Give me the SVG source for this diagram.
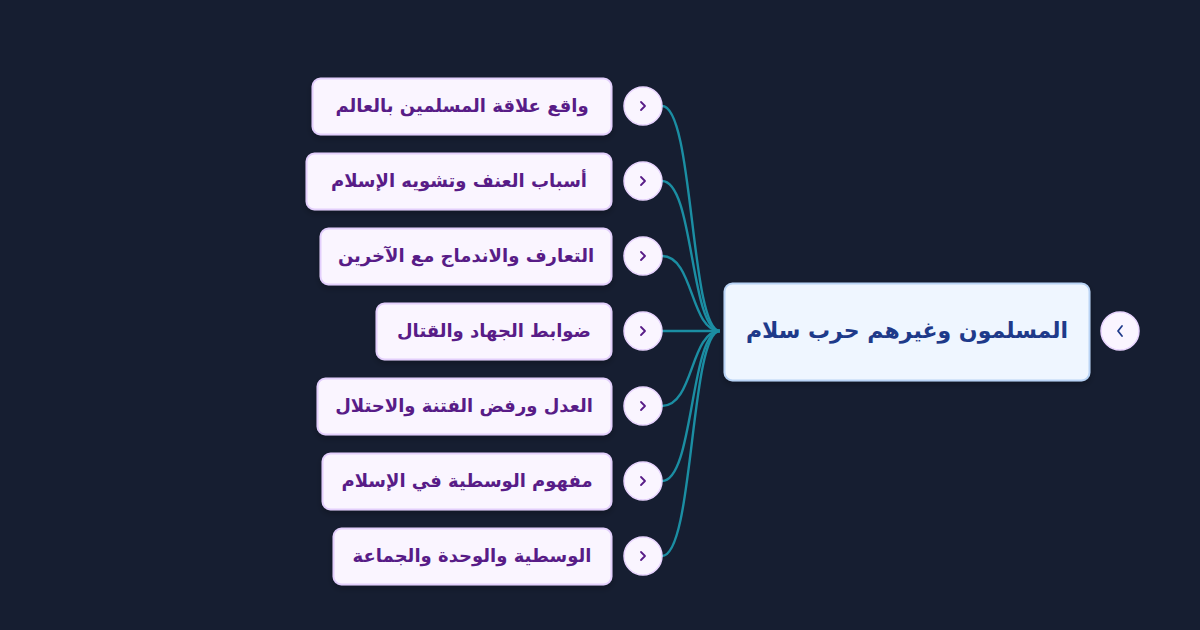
<svg xmlns="http://www.w3.org/2000/svg" width="1200" height="630" viewBox="0 0 1200 630">
<defs>
<style>
.bg{fill:#161e31}
.child rect{fill:#faf5ff;stroke:#e3cffc;stroke-width:2}
.child text{fill:#581c87;font-family:"DejaVu Sans",sans-serif;font-weight:bold;font-size:18px;text-anchor:middle;dominant-baseline:central}
.root rect{fill:#eff6ff;stroke:#b9d3f5;stroke-width:2}
.root text{fill:#1e3a8a;font-family:"DejaVu Sans",sans-serif;font-weight:bold;font-size:22px;text-anchor:middle;dominant-baseline:central}
.tog circle{fill:#faf5ff;stroke:#e9d5ff;stroke-width:1.5}
.tog path{fill:none;stroke:#581c87;stroke-width:1.8;stroke-linecap:round;stroke-linejoin:round}
.rtog path{stroke:#1e3a8a}
.conn path{fill:none;stroke:#1b8ea3;stroke-width:2.4}
</style>
<filter id="sh" x="-10%" y="-20%" width="120%" height="150%">
<feDropShadow dx="0" dy="3" stdDeviation="3" flood-color="#000" flood-opacity="0.25"/>
</filter>
</defs>
<rect class="bg" x="0" y="0" width="1200" height="630"/>
<g id="connectors" class="conn">
<path d="M662,106 C694,106 690,331 720,331"/>
<path d="M662,181 C694,181 690,331 720,331"/>
<path d="M662,256 C694,256 690,331 720,331"/>
<path d="M662,331 L720,331"/>
<path d="M662,406 C694,406 690,331 720,331"/>
<path d="M662,481 C694,481 690,331 720,331"/>
<path d="M662,556 C694,556 690,331 720,331"/>
</g>
<g id="root" class="root">
<rect x="724.5" y="283.5" width="365" height="97" rx="8" filter="url(#sh)"/>
<text x="907" y="330" direction="rtl">المسلمون وغيرهم حرب سلام</text>
</g>
<g id="root-toggle" class="tog rtog">
<circle cx="1120" cy="331" r="19"/>
<path d="M1122,326 L1118,331 L1122,336"/>
</g>
<g id="n1" class="child">
<rect x="312.5" y="78.5" width="299" height="56" rx="8" filter="url(#sh)"/>
<text x="462" y="105" direction="rtl">واقع علاقة المسلمين بالعالم</text>
</g>
<g id="n2" class="child">
<rect x="306.5" y="153.5" width="305" height="56" rx="8" filter="url(#sh)"/>
<text x="459" y="180" direction="rtl">أسباب العنف وتشويه الإسلام</text>
</g>
<g id="n3" class="child">
<rect x="320.5" y="228.5" width="291" height="56" rx="8" filter="url(#sh)"/>
<text x="466" y="255" direction="rtl">التعارف والاندماج مع الآخرين</text>
</g>
<g id="n4" class="child">
<rect x="376.5" y="303.5" width="235" height="56" rx="8" filter="url(#sh)"/>
<text x="494" y="330" direction="rtl">ضوابط الجهاد والقتال</text>
</g>
<g id="n5" class="child">
<rect x="317.5" y="378.5" width="294" height="56" rx="8" filter="url(#sh)"/>
<text x="464" y="405" direction="rtl">العدل ورفض الفتنة والاحتلال</text>
</g>
<g id="n6" class="child">
<rect x="322.5" y="453.5" width="289" height="56" rx="8" filter="url(#sh)"/>
<text x="467" y="480" direction="rtl">مفهوم الوسطية في الإسلام</text>
</g>
<g id="n7" class="child">
<rect x="333.5" y="528.5" width="278" height="56" rx="8" filter="url(#sh)"/>
<text x="472" y="555" direction="rtl">الوسطية والوحدة والجماعة</text>
</g>
<g id="toggles" class="tog">
<circle cx="643" cy="106" r="19"/><path d="M641,102 L645,106 L641,110"/>
<circle cx="643" cy="181" r="19"/><path d="M641,177 L645,181 L641,185"/>
<circle cx="643" cy="256" r="19"/><path d="M641,252 L645,256 L641,260"/>
<circle cx="643" cy="331" r="19"/><path d="M641,327 L645,331 L641,335"/>
<circle cx="643" cy="406" r="19"/><path d="M641,402 L645,406 L641,410"/>
<circle cx="643" cy="481" r="19"/><path d="M641,477 L645,481 L641,485"/>
<circle cx="643" cy="556" r="19"/><path d="M641,552 L645,556 L641,560"/>
</g>
</svg>
